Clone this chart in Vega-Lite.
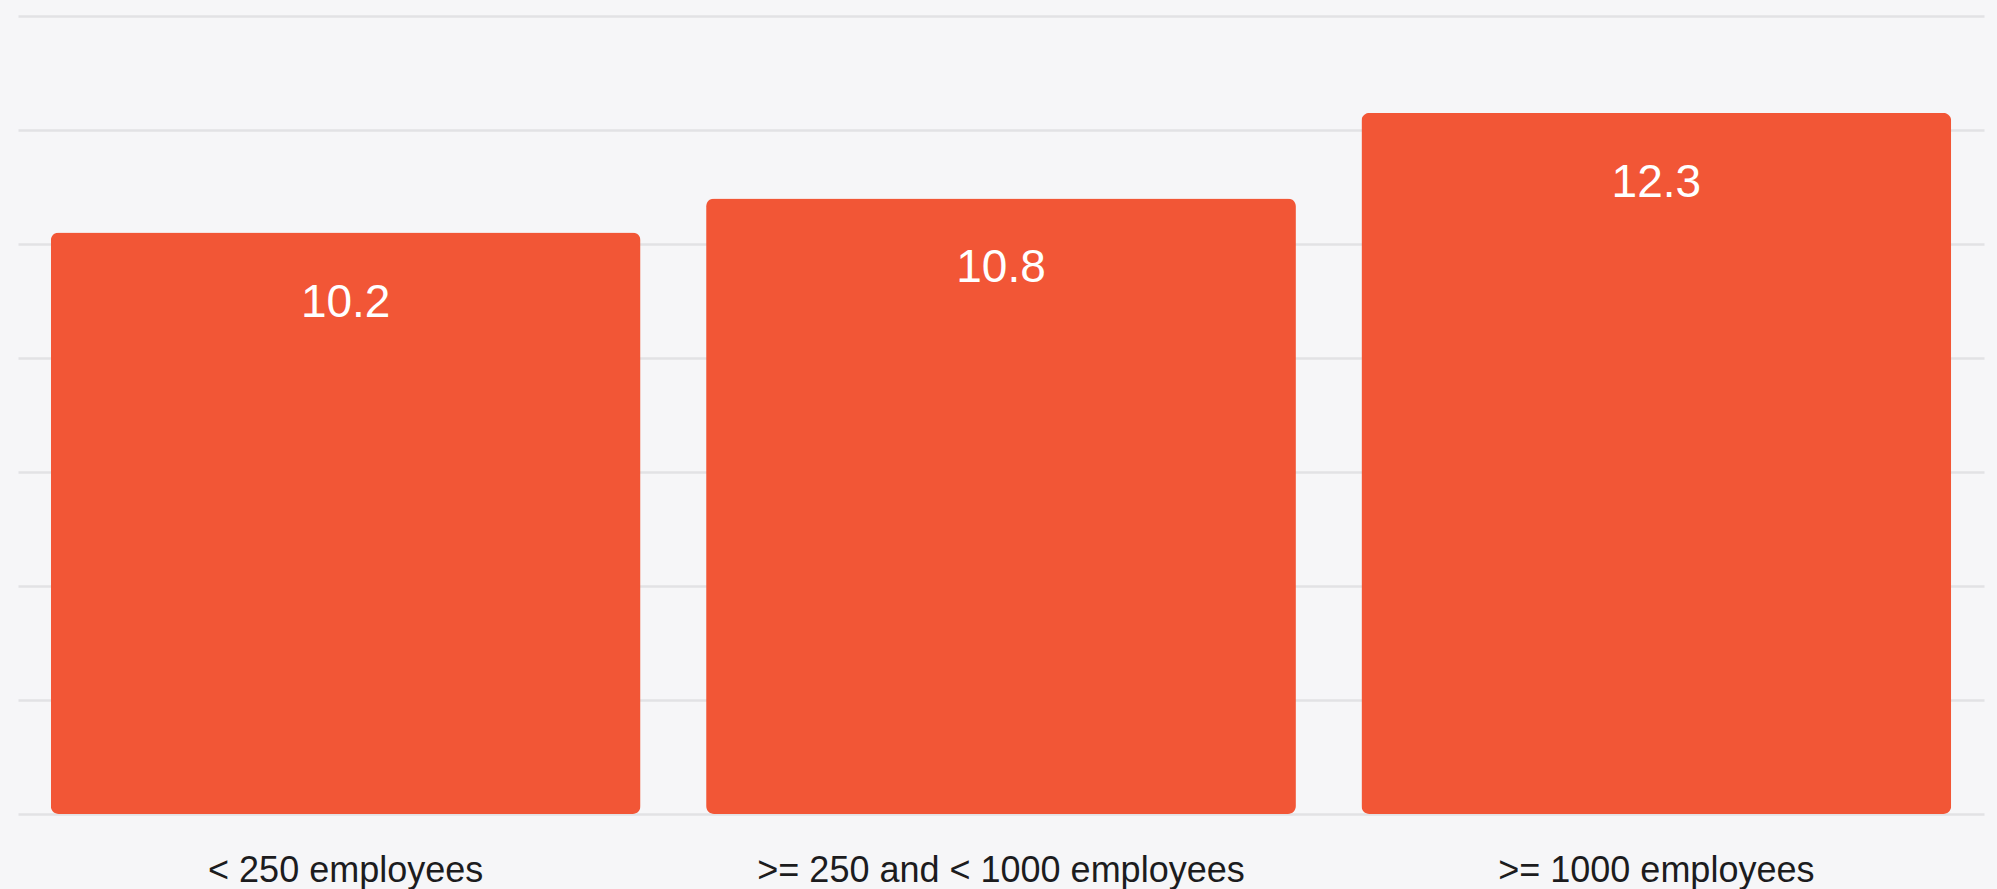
{
  "$schema": "https://vega.github.io/schema/vega-lite/v6.json",
  "width": 1966,
  "height": 798,
  "padding": {"left": 18, "top": 16, "right": 13, "bottom": 75},
  "autosize": {"type": "none"},
  "background": "#f6f6f8",
  "config": {
    "view": {"stroke": null},
    "font": "Liberation Sans"
  },
  "data": {
    "values": [
      {"size": "< 250 employees", "value": 10.2},
      {"size": ">= 250 and < 1000 employees", "value": 10.8},
      {"size": ">= 1000 employees", "value": 12.3}
    ]
  },
  "encoding": {
    "x": {
      "field": "size",
      "type": "nominal",
      "sort": null,
      "scale": {"paddingInner": 0.1, "paddingOuter": 0.05},
      "axis": {
        "title": null,
        "labelAngle": 0,
        "domain": false,
        "ticks": false,
        "labelFontSize": 36,
        "labelColor": "#1c1c1e",
        "labelPadding": 39,
        "labelLimit": 0,
        "labelFont": "Liberation Sans"
      }
    },
    "y": {
      "field": "value",
      "type": "quantitative",
      "scale": {"domain": [0, 14]},
      "axis": {
        "title": null,
        "labels": false,
        "domain": false,
        "ticks": false,
        "values": [0, 2, 4, 6, 8, 10, 12, 14],
        "gridColor": "#e2e2e5",
        "gridWidth": 2.5
      }
    }
  },
  "layer": [
    {
      "mark": {"type": "bar", "color": "#f25636", "cornerRadius": 8}
    },
    {
      "mark": {
        "type": "text",
        "color": "#ffffff",
        "fontSize": 46,
        "baseline": "middle",
        "dy": 70,
        "font": "Liberation Sans"
      },
      "encoding": {"text": {"field": "value", "type": "quantitative", "format": ".1f"}}
    }
  ]
}
